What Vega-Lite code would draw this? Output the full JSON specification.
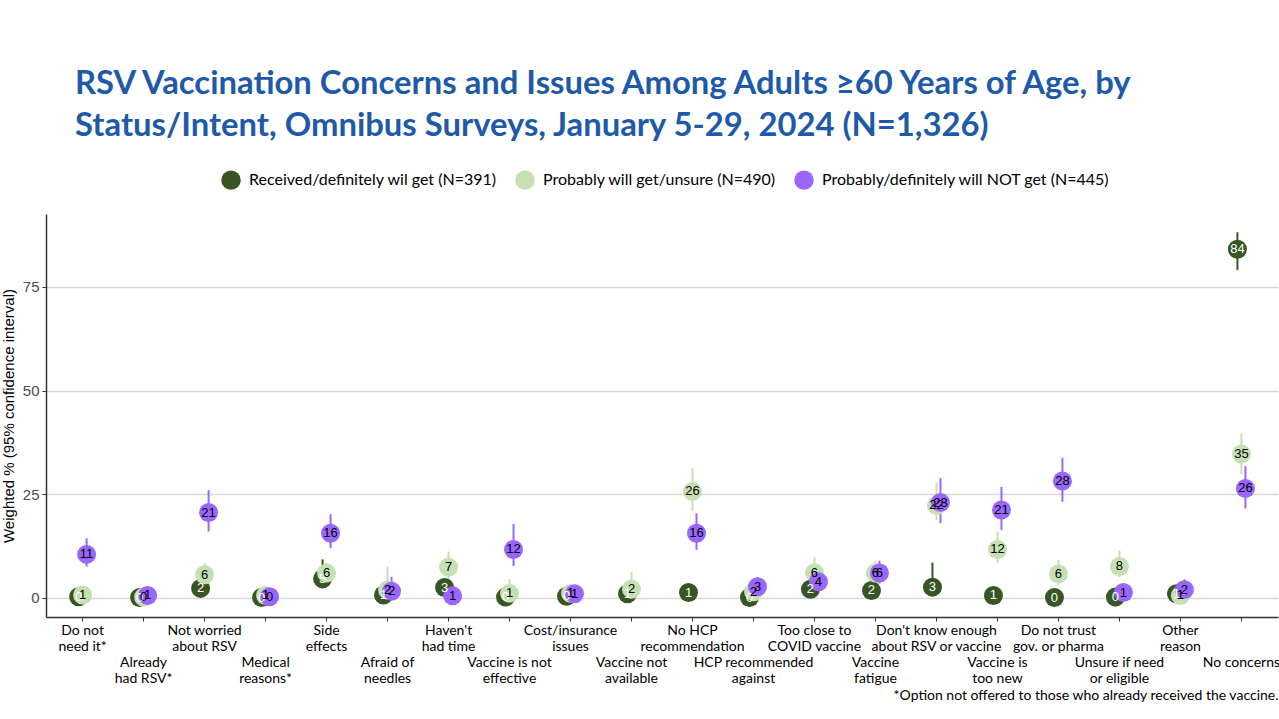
{
  "$schema": "https://vega.github.io/schema/vega-lite/v6.json",
  "width": 1232,
  "height": 403,
  "autosize": {"type": "none"},
  "padding": {"left": 46, "top": 214, "right": 1, "bottom": 102},
  "background": "white",
  "config": {"view": {"stroke": null}},
  "title": {
    "text": ["RSV Vaccination Concerns and Issues Among Adults ≥60 Years of Age, by", "Status/Intent, Omnibus Surveys, January 5-29, 2024 (N=1,326)"],
    "anchor": "start",
    "frame": "group",
    "font": "Lato",
    "fontWeight": "bold",
    "fontSize": 32.8,
    "lineHeight": 42,
    "color": "#1E5AA8",
    "dx": 29,
    "offset": 27
  },
  "data": {
    "values": [
      {"category": "Do not need it*", "group": "Received/definitely wil get (N=391)", "value": 0.3, "lo": 0.0, "hi": 1.0},
      {"category": "Do not need it*", "group": "Probably will get/unsure (N=490)", "value": 0.7, "lo": 0.1, "hi": 2.0},
      {"category": "Do not need it*", "group": "Probably/definitely will NOT get (N=445)", "value": 10.5, "lo": 7.6, "hi": 14.4},
      {"category": "Already had RSV*", "group": "Received/definitely wil get (N=391)", "value": 0.1, "lo": 0.0, "hi": 0.5},
      {"category": "Already had RSV*", "group": "Probably will get/unsure (N=490)", "value": 0.2, "lo": 0.0, "hi": 0.8},
      {"category": "Already had RSV*", "group": "Probably/definitely will NOT get (N=445)", "value": 0.6, "lo": 0.1, "hi": 1.8},
      {"category": "Not worried about RSV", "group": "Received/definitely wil get (N=391)", "value": 2.3, "lo": 1.0, "hi": 4.3},
      {"category": "Not worried about RSV", "group": "Probably will get/unsure (N=490)", "value": 5.6, "lo": 3.5, "hi": 8.4},
      {"category": "Not worried about RSV", "group": "Probably/definitely will NOT get (N=445)", "value": 20.6, "lo": 16.0, "hi": 26.0},
      {"category": "Medical reasons*", "group": "Received/definitely wil get (N=391)", "value": 0.1, "lo": 0.0, "hi": 0.5},
      {"category": "Medical reasons*", "group": "Probably will get/unsure (N=490)", "value": 0.6, "lo": 0.1, "hi": 1.8},
      {"category": "Medical reasons*", "group": "Probably/definitely will NOT get (N=445)", "value": 0.3, "lo": 0.0, "hi": 1.2},
      {"category": "Side effects", "group": "Received/definitely wil get (N=391)", "value": 4.6, "lo": 2.3, "hi": 9.3},
      {"category": "Side effects", "group": "Probably will get/unsure (N=490)", "value": 6.0, "lo": 4.0, "hi": 8.5},
      {"category": "Side effects", "group": "Probably/definitely will NOT get (N=445)", "value": 15.6, "lo": 12.0, "hi": 20.2},
      {"category": "Afraid of needles", "group": "Received/definitely wil get (N=391)", "value": 0.7, "lo": 0.1, "hi": 2.0},
      {"category": "Afraid of needles", "group": "Probably will get/unsure (N=490)", "value": 1.9, "lo": 0.5, "hi": 7.6},
      {"category": "Afraid of needles", "group": "Probably/definitely will NOT get (N=445)", "value": 1.6, "lo": 0.5, "hi": 5.1},
      {"category": "Haven't had time", "group": "Received/definitely wil get (N=391)", "value": 2.5, "lo": 1.0, "hi": 4.5},
      {"category": "Haven't had time", "group": "Probably will get/unsure (N=490)", "value": 7.4, "lo": 4.5, "hi": 11.2},
      {"category": "Haven't had time", "group": "Probably/definitely will NOT get (N=445)", "value": 0.5, "lo": 0.1, "hi": 1.5},
      {"category": "Vaccine is not effective", "group": "Received/definitely wil get (N=391)", "value": 0.2, "lo": 0.0, "hi": 0.8},
      {"category": "Vaccine is not effective", "group": "Probably will get/unsure (N=490)", "value": 1.1, "lo": 0.3, "hi": 4.5},
      {"category": "Vaccine is not effective", "group": "Probably/definitely will NOT get (N=445)", "value": 11.7, "lo": 7.7, "hi": 17.8},
      {"category": "Cost/insurance issues", "group": "Received/definitely wil get (N=391)", "value": 0.4, "lo": 0.0, "hi": 1.2},
      {"category": "Cost/insurance issues", "group": "Probably will get/unsure (N=490)", "value": 1.1, "lo": 0.3, "hi": 3.0},
      {"category": "Cost/insurance issues", "group": "Probably/definitely will NOT get (N=445)", "value": 1.0, "lo": 0.3, "hi": 2.5},
      {"category": "Vaccine not available", "group": "Received/definitely wil get (N=391)", "value": 1.0, "lo": 0.3, "hi": 2.5},
      {"category": "Vaccine not available", "group": "Probably will get/unsure (N=490)", "value": 2.1, "lo": 0.8, "hi": 6.3},
      {"category": "No HCP recommendation", "group": "Received/definitely wil get (N=391)", "value": 1.3, "lo": 0.5, "hi": 2.8},
      {"category": "No HCP recommendation", "group": "Probably will get/unsure (N=490)", "value": 25.7, "lo": 21.0, "hi": 31.3},
      {"category": "No HCP recommendation", "group": "Probably/definitely will NOT get (N=445)", "value": 15.6, "lo": 11.6, "hi": 20.4},
      {"category": "HCP recommended against", "group": "Received/definitely wil get (N=391)", "value": 0.1, "lo": 0.0, "hi": 0.6},
      {"category": "HCP recommended against", "group": "Probably will get/unsure (N=490)", "value": 1.5, "lo": 0.5, "hi": 3.5},
      {"category": "HCP recommended against", "group": "Probably/definitely will NOT get (N=445)", "value": 2.7, "lo": 1.0, "hi": 5.0},
      {"category": "Too close to COVID vaccine", "group": "Received/definitely wil get (N=391)", "value": 2.1, "lo": 0.9, "hi": 4.0},
      {"category": "Too close to COVID vaccine", "group": "Probably will get/unsure (N=490)", "value": 6.1, "lo": 3.5, "hi": 9.8},
      {"category": "Too close to COVID vaccine", "group": "Probably/definitely will NOT get (N=445)", "value": 3.9, "lo": 2.0, "hi": 7.6},
      {"category": "Vaccine fatigue", "group": "Received/definitely wil get (N=391)", "value": 1.8, "lo": 0.5, "hi": 5.3},
      {"category": "Vaccine fatigue", "group": "Probably will get/unsure (N=490)", "value": 6.0, "lo": 3.5, "hi": 9.0},
      {"category": "Vaccine fatigue", "group": "Probably/definitely will NOT get (N=445)", "value": 6.0, "lo": 3.5, "hi": 9.0},
      {"category": "Don't know enough about RSV or vaccine", "group": "Received/definitely wil get (N=391)", "value": 2.6, "lo": 1.0, "hi": 8.5},
      {"category": "Don't know enough about RSV or vaccine", "group": "Probably will get/unsure (N=490)", "value": 22.3, "lo": 18.8, "hi": 27.8},
      {"category": "Don't know enough about RSV or vaccine", "group": "Probably/definitely will NOT get (N=445)", "value": 23.0, "lo": 18.0, "hi": 28.9},
      {"category": "Vaccine is too new", "group": "Received/definitely wil get (N=391)", "value": 0.6, "lo": 0.1, "hi": 1.5},
      {"category": "Vaccine is too new", "group": "Probably will get/unsure (N=490)", "value": 11.7, "lo": 8.4, "hi": 16.0},
      {"category": "Vaccine is too new", "group": "Probably/definitely will NOT get (N=445)", "value": 21.2, "lo": 16.4, "hi": 26.8},
      {"category": "Do not trust gov. or pharma", "group": "Received/definitely wil get (N=391)", "value": 0.1, "lo": 0.0, "hi": 0.6},
      {"category": "Do not trust gov. or pharma", "group": "Probably will get/unsure (N=490)", "value": 5.8, "lo": 3.2, "hi": 9.2},
      {"category": "Do not trust gov. or pharma", "group": "Probably/definitely will NOT get (N=445)", "value": 28.2, "lo": 23.2, "hi": 33.8},
      {"category": "Unsure if need or eligible", "group": "Received/definitely wil get (N=391)", "value": 0.2, "lo": 0.0, "hi": 0.8},
      {"category": "Unsure if need or eligible", "group": "Probably will get/unsure (N=490)", "value": 7.6, "lo": 5.0, "hi": 11.4},
      {"category": "Unsure if need or eligible", "group": "Probably/definitely will NOT get (N=445)", "value": 1.3, "lo": 0.4, "hi": 3.0},
      {"category": "Other reason", "group": "Received/definitely wil get (N=391)", "value": 1.0, "lo": 0.3, "hi": 2.5},
      {"category": "Other reason", "group": "Probably will get/unsure (N=490)", "value": 0.6, "lo": 0.1, "hi": 1.8},
      {"category": "Other reason", "group": "Probably/definitely will NOT get (N=445)", "value": 2.0, "lo": 0.8, "hi": 4.5},
      {"category": "No concerns", "group": "Received/definitely wil get (N=391)", "value": 84.1, "lo": 79.1, "hi": 88.2},
      {"category": "No concerns", "group": "Probably will get/unsure (N=490)", "value": 34.7, "lo": 29.9, "hi": 39.7},
      {"category": "No concerns", "group": "Probably/definitely will NOT get (N=445)", "value": 26.4, "lo": 21.6, "hi": 31.8}
    ]
  },
  "encoding": {
    "x": {
      "field": "category",
      "type": "nominal",
      "scale": {
        "type": "band",
        "paddingInner": 0,
        "paddingOuter": 0.1,
        "domain": ["Do not need it*", "Already had RSV*", "Not worried about RSV", "Medical reasons*", "Side effects", "Afraid of needles", "Haven't had time", "Vaccine is not effective", "Cost/insurance issues", "Vaccine not available", "No HCP recommendation", "HCP recommended against", "Too close to COVID vaccine", "Vaccine fatigue", "Don't know enough about RSV or vaccine", "Vaccine is too new", "Do not trust gov. or pharma", "Unsure if need or eligible", "Other reason", "No concerns"]
      },
      "axis": {
        "title": "*Option not offered to those who already received the vaccine.",
        "titleAnchor": "end",
        "titleAlign": "right",
        "titleFont": "Lato",
        "titleFontSize": 14,
        "titleFontWeight": "normal",
        "titleColor": "#000000",
        "titlePadding": 3,
        "labelAngle": 0,
        "labelOverlap": false,
        "labelBound": false,
        "labelLimit": 0,
        "labelFont": "Lato",
        "labelFontSize": 14,
        "labelColor": "#000000",
        "labelBaseline": "top",
        "labelLineHeight": 16,
        "labelPadding": {
          "condition": {"test": "indexof(['Already had RSV*','Medical reasons*','Afraid of needles','Vaccine is not effective','Vaccine not available','HCP recommended against','Vaccine fatigue','Vaccine is too new','Unsure if need or eligible','No concerns'], datum.value) >= 0", "value": 34},
          "value": 2
        },
        "tickColor": "#333333",
        "tickSize": 4,
        "domainColor": "#333333",
        "domainWidth": 1.5,
        "grid": false,
        "labelExpr": "{\"Do not need it*\":[\"Do not\",\"need it*\"],\"Already had RSV*\":[\"Already\",\"had RSV*\"],\"Not worried about RSV\":[\"Not worried\",\"about RSV\"],\"Medical reasons*\":[\"Medical\",\"reasons*\"],\"Side effects\":[\"Side\",\"effects\"],\"Afraid of needles\":[\"Afraid of\",\"needles\"],\"Haven't had time\":[\"Haven't\",\"had time\"],\"Vaccine is not effective\":[\"Vaccine is not\",\"effective\"],\"Cost/insurance issues\":[\"Cost/insurance\",\"issues\"],\"Vaccine not available\":[\"Vaccine not\",\"available\"],\"No HCP recommendation\":[\"No HCP\",\"recommendation\"],\"HCP recommended against\":[\"HCP recommended\",\"against\"],\"Too close to COVID vaccine\":[\"Too close to\",\"COVID vaccine\"],\"Vaccine fatigue\":[\"Vaccine\",\"fatigue\"],\"Don't know enough about RSV or vaccine\":[\"Don't know enough\",\"about RSV or vaccine\"],\"Vaccine is too new\":[\"Vaccine is\",\"too new\"],\"Do not trust gov. or pharma\":[\"Do not trust\",\"gov. or pharma\"],\"Unsure if need or eligible\":[\"Unsure if need\",\"or eligible\"],\"Other reason\":[\"Other\",\"reason\"],\"No concerns\":\"No concerns\"}[datum.value]"
      }
    },
    "xOffset": {
      "field": "group",
      "type": "nominal",
      "scale": {
        "type": "point",
        "domain": ["Received/definitely wil get (N=391)", "Probably will get/unsure (N=490)", "Probably/definitely will NOT get (N=445)"],
        "range": [24.5, 36.5]
      }
    },
    "color": {
      "field": "group",
      "type": "nominal",
      "scale": {
        "domain": ["Received/definitely wil get (N=391)", "Probably will get/unsure (N=490)", "Probably/definitely will NOT get (N=445)"],
        "range": ["#375623", "#C5E0B4", "#9966FF"]
      },
      "legend": {
        "title": null,
        "orient": "none",
        "direction": "horizontal",
        "legendX": 175,
        "legendY": -44,
        "symbolType": "circle",
        "symbolSize": 380,
        "symbolStrokeWidth": 0,
        "symbolOpacity": 1,
        "labelFont": "Lato",
        "labelFontSize": 16,
        "labelLimit": 0,
        "labelColor": "#000000",
        "labelOffset": 8,
        "columnPadding": 18
      }
    }
  },
  "layer": [
    {
      "mark": {"type": "rule", "strokeWidth": 2},
      "encoding": {
        "y": {"field": "lo", "type": "quantitative"},
        "y2": {"field": "hi"}
      }
    },
    {
      "mark": {"type": "point", "shape": "circle", "filled": true, "opacity": 1, "size": 360},
      "encoding": {
        "y": {
          "field": "value",
          "type": "quantitative",
          "scale": {"domain": [-4.6, 92.6], "nice": false, "zero": false},
          "axis": {
            "title": "Weighted % (95% confidence interval)",
            "titleFont": "Liberation Sans",
            "titleFontSize": 15,
            "titleFontWeight": "normal",
            "titleColor": "#000000",
            "titlePadding": 6,
            "values": [0, 25, 50, 75],
            "labelFont": "Liberation Sans",
            "labelFontSize": 15,
            "labelColor": "#4D4D4D",
            "labelPadding": 3,
            "tickColor": "#333333",
            "tickSize": 4,
            "domainColor": "#333333",
            "domainWidth": 1.5,
            "grid": true,
            "gridColor": "#D9D9D9",
            "gridWidth": 1.5
          }
        }
      }
    },
    {
      "mark": {"type": "text", "font": "Liberation Sans", "fontSize": 13, "baseline": "middle", "align": "center"},
      "encoding": {
        "y": {"field": "value", "type": "quantitative"},
        "text": {"field": "value", "type": "quantitative", "format": ".0f"},
        "color": {
          "condition": {"test": "datum.group === 'Received/definitely wil get (N=391)'", "value": "#FFFFFF"},
          "value": "#000000"
        }
      }
    }
  ]
}
